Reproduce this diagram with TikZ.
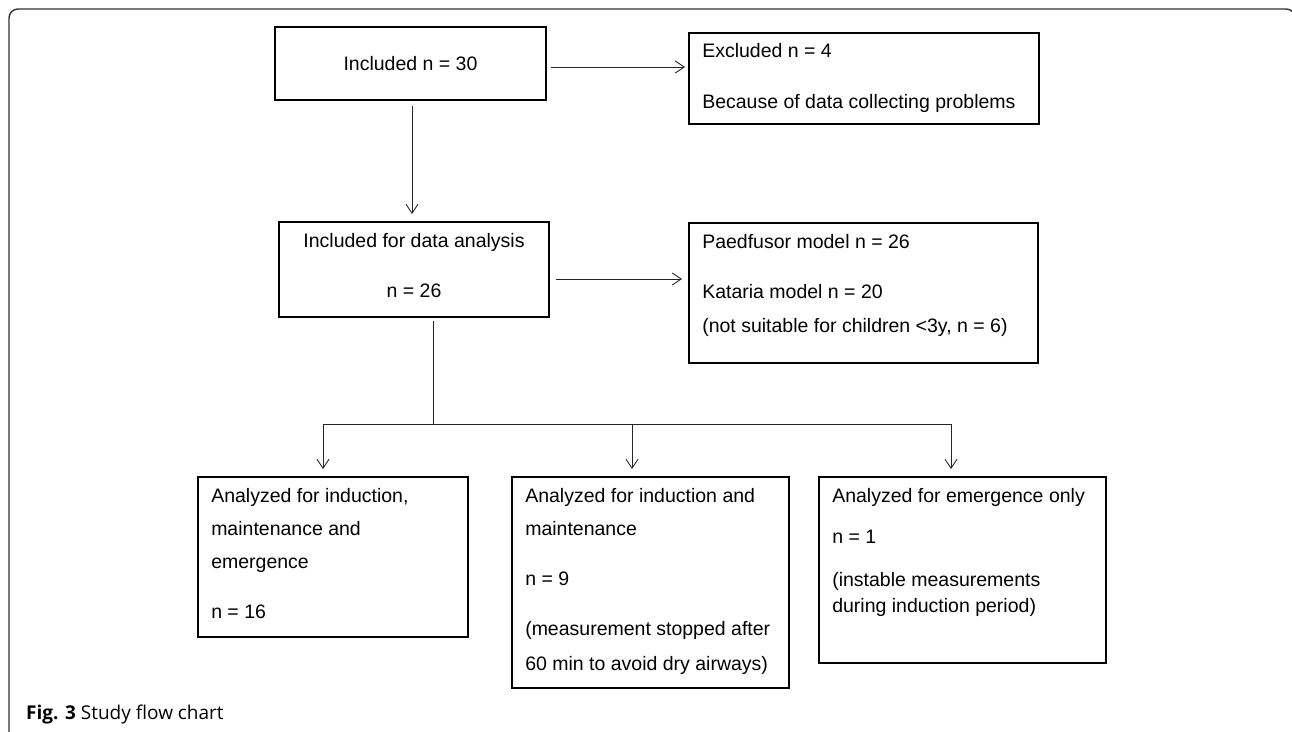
\documentclass[tikz,border=0pt]{standalone}
\usepackage{fontspec}
\setmainfont{Liberation Sans}
\newfontfamily\captionfont{Open Sans}
\usetikzlibrary{arrows.meta}

\tikzset{
  flowbox/.style={draw=black, line width=1.9pt, inner sep=0pt},
  flowtext/.style={inner sep=0pt, anchor=north west, align=left, font=\fontsize{19.5}{26}\selectfont},
  link/.style={draw=black!85, line width=0.9pt},
  arr/.style={link, -{Straight Barb[length=9pt,width=12pt]}},
}

\begin{document}
\begin{tikzpicture}[x=1pt,y=-1pt]
   \useasboundingbox (0,0) rectangle (1292,731);
   \draw[black!80, line width=1.4pt, rounded corners=9pt] (9,760) -- (9,9) -- (1295,9) -- (1295,760);
   % top row
   \node[flowbox, minimum width=271pt, minimum height=73pt, font=\fontsize{19.5}{26}\selectfont] (incl) at (410.5,63.5) {Included n = 30};
   \node[flowbox, minimum width=350pt, minimum height=91pt] (excl) at (864,78.5) {};
   \node[flowtext] (excltxt) at ([shift={(14,11)}]excl.north west) {Excluded n = 4\\[25pt]Because of data collecting problems};
   % second row
   \node[flowbox, minimum width=270pt, minimum height=95pt] (anal) at (414,269.5) {};
   \node[flowtext, anchor=north, align=center] (analtxt) at ([yshift=-12pt]anal.north) {Included for data analysis\\[24pt]n = 26};
   \node[flowbox, minimum width=349pt, minimum height=140pt] (model) at (863.5,293) {};
   \node[flowtext] (modeltxt) at ([shift={(14,12)}]model.north west) {Paedfusor model n = 26\\[24pt]Kataria model n = 20\\[8pt](not suitable for children <3y, n = 6)};
   % bottom row
   \node[flowbox, minimum width=270pt, minimum height=160pt] (full) at (333,557) {};
   \node[flowtext] (fulltxt) at ([shift={(14,12)}]full.north west) {Analyzed for induction,\\[7pt]maintenance and\\[7pt]emergence\\[24pt]n = 16};
   \node[flowbox, minimum width=277pt, minimum height=211pt] (maint) at (650.5,582.5) {};
   \node[flowtext] (mainttxt) at ([shift={(14,12)}]maint.north west) {Analyzed for induction and\\[7pt]maintenance\\[24pt]n = 9\\[24pt](measurement stopped after\\[9pt]60 min to avoid dry airways)};
   \node[flowbox, minimum width=287pt, minimum height=186pt] (emerg) at (962.5,570) {};
   \node[flowtext] (emergtxt) at ([shift={(14,12)}]emerg.north west) {Analyzed for emergence only\\[15pt]n = 1\\[17pt](instable measurements\\during induction period)};
   % connectors
   \draw[arr, shorten <=4pt, shorten >=3pt] ([yshift=-3.5pt]incl.east) -- ([yshift=-3.5pt]incl.east -| excl.west);
   \draw[arr, shorten <=5pt, shorten >=7pt] ([xshift=1.5pt]incl.south) -- ([xshift=1.5pt]incl.south |- anal.north);
   \draw[arr, shorten <=6pt, shorten >=6pt] ([yshift=-9.5pt]anal.east) -- ([yshift=-9.5pt]anal.east -| model.west);
   \coordinate (fork) at ([xshift=19pt]anal.south |- 0,424);
   \draw[link, shorten <=3pt] ([xshift=19pt]anal.south) -- (fork);
   \draw[arr, shorten >=7pt] (fork) -| ([xshift=-10pt]full.north);
   \draw[arr, shorten >=7pt] (fork) -| ([xshift=-18.5pt]maint.north);
   \draw[arr, shorten >=7pt] (fork) -| ([xshift=-11.5pt]emerg.north);
   % caption
   \node[anchor=base west, inner sep=0pt, font=\captionfont\fontsize{19}{23}\selectfont] (caption) at (26,719) {\textbf{Fig. 3} Study flow chart};
\end{tikzpicture}
\end{document}
